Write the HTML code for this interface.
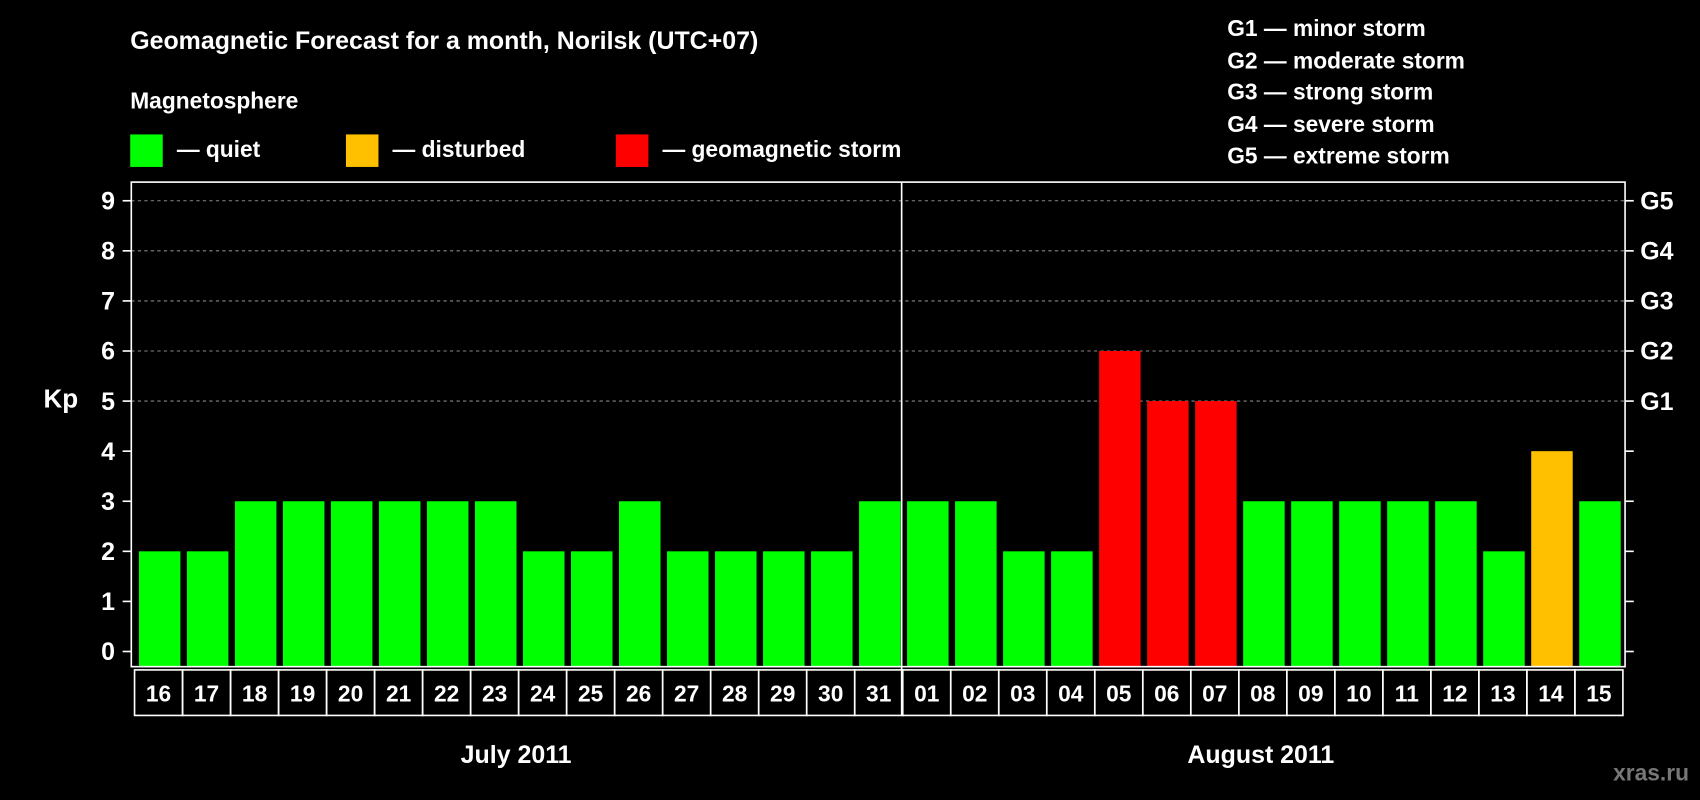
<!DOCTYPE html>
<html><head><meta charset="utf-8"><style>
html,body{margin:0;padding:0;background:#000;width:1700px;height:800px;overflow:hidden}
svg{display:block}
text{font-family:"Liberation Sans",Arial,sans-serif;font-weight:bold;fill:#fff}
</style></head><body>
<svg id="chart" width="1700" height="800" viewBox="0 0 1568 738" xmlns="http://www.w3.org/2000/svg">
<rect width="1568" height="738" fill="#000"/>
<text x="120" y="45" font-size="23">Geomagnetic Forecast for a month, Norilsk (UTC+07)</text>
<text x="120" y="100" font-size="21">Magnetosphere</text>
<g>
<rect x="120" y="124" width="30" height="30" fill="#00ff00"/>
<text x="163" y="145" font-size="21">— quiet</text>
<rect x="319" y="124" width="30" height="30" fill="#ffc000"/>
<text x="362" y="145" font-size="21">— disturbed</text>
<rect x="568" y="124" width="30" height="30" fill="#ff0000"/>
<text x="611" y="145" font-size="21">— geomagnetic storm</text>
</g>
<g font-size="21">
<text x="1132" y="33">G1 — minor storm</text>
<text x="1132" y="63">G2 — moderate storm</text>
<text x="1132" y="92">G3 — strong storm</text>
<text x="1132" y="122">G4 — severe storm</text>
<text x="1132" y="151">G5 — extreme storm</text>
</g>
<text x="40" y="376" font-size="24">Kp</text>
<g id="grid"></g>
<g id="bars"></g>
<rect x="121" y="168" width="1378" height="447" fill="none" stroke="#fff" stroke-width="1.5"/>
<g id="axes"></g>
<text x="476" y="704" font-size="23" text-anchor="middle">July 2011</text>
<text x="1163" y="704" font-size="23" text-anchor="middle">August 2011</text>
<text x="1558" y="720" font-size="21" text-anchor="end" style="fill:#777">xras.ru</text>
</svg>
<script>
const days=["16","17","18","19","20","21","22","23","24","25","26","27","28","29","30","31","01","02","03","04","05","06","07","08","09","10","11","12","13","14","15"];
const kpValues=[2,2,3,3,3,3,3,3,2,2,3,2,2,2,2,3,3,3,2,2,6,5,5,3,3,3,3,3,2,4,3];
const yTicks=[0,1,2,3,4,5,6,7,8,9];
const gLabels=["","","","","","G1","G2","G3","G4","G5"];
const NS="http://www.w3.org/2000/svg";
const x0=124,x1=1497,plotBottom=615;
const bw=(x1-x0)/days.length;
function xPos(i){return x0+i*bw;}
function yPos(v){return 601-v*46.2;}
function mk(tag,attrs,parent){const e=document.createElementNS(NS,tag);for(const k in attrs)e.setAttribute(k,attrs[k]);parent.appendChild(e);return e;}
const grid=document.getElementById('grid'),bars=document.getElementById('bars'),axes=document.getElementById('axes');
yTicks.forEach((v,i)=>{
  const y=yPos(v);
  if(v>=5){const l=mk('line',{x1:121,x2:1499,y1:y,y2:y,stroke:'#888','stroke-dasharray':'3,3'},grid);
    
    }
  const t1=mk('line',{x1:113,x2:121,y1:y,y2:y,stroke:'#fff','stroke-width':1.5},axes);
  
  
  const t2=mk('line',{x1:1499,x2:1507,y1:y,y2:y,stroke:'#fff','stroke-width':1.5},axes);
  
  
  const tl=mk('text',{x:106,y:y+8,'font-size':23,'text-anchor':'end'},axes);tl.textContent=v;
  
  
  if(gLabels[i]){const g=mk('text',{x:1513,y:y+8,'font-size':23},axes);g.textContent=gLabels[i];
    
    }
});
kpValues.forEach((v,i)=>{
  const col=v>=5?'#ff0000':(v>=4?'#ffc000':'#00ff00');
  const y=yPos(v);
  const r=mk('rect',{x:xPos(i)+4,y:y,width:bw-6,height:plotBottom-y,fill:col},bars);
  
  
  const c=mk('rect',{x:xPos(i),y:618,width:bw,height:42,fill:'none',stroke:'#fff','stroke-width':1.5},axes);
  
  
  const t=mk('text',{x:xPos(i)+bw/2,y:647,'font-size':21,'text-anchor':'middle'},axes);t.textContent=days[i];
  
  
});
const sep=mk('line',{x1:xPos(16)-1,x2:xPos(16)-1,y1:168,y2:660,stroke:'#fff','stroke-width':1.5},axes);


</script>
</body></html>
